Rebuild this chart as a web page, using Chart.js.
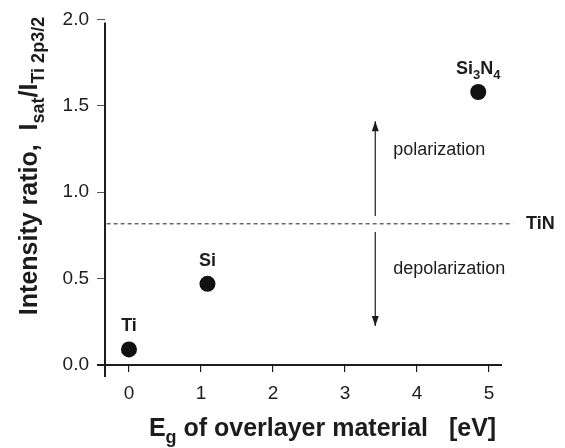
<!DOCTYPE html>
<html>
<head>
<meta charset="utf-8">
<script src="https://cdn.jsdelivr.net/npm/chart.js@4.4.0/dist/chart.umd.min.js"></script>
<style>
  html, body { margin: 0; background: #fff; }
  #wrap { width: 565px; height: 448px; }
</style>
</head>
<body>
<div id="wrap"><canvas id="c"></canvas></div>
<script>
// Satellite intensity ratio vs band gap of the overlayer.
const materials = ['Ti', 'Si', 'Si3N4'];
const bandGap = [0, 1.09, 4.85];          // eV
const intensityRatio = [0.09, 0.47, 1.58];
const tinRatio = 0.817;                   // bare TiN reference
const xTicks = [0, 1, 2, 3, 4, 5];
const yTicks = [0, 0.5, 1.0, 1.5, 2.0];

// polarization / depolarization arrows (x, from, to)
const arrowX = 3.42;
const arrowUp = [0.862, 1.41];
const arrowDown = [0.77, 0.226];

// label pieces: [text, isSubscript]
const pointLabels = [
  [['Ti', 0]],
  [['Si', 0]],
  [['Si', 0], ['3', 1], ['N', 0], ['4', 1]],
];
const yTitle = [['Intensity ratio,  I', 0], ['sat', 1], ['/I', 0], ['Ti 2p3/2', 1]];
const xTitle = [['E', 0], ['g', 1], [' of overlayer material   [eV]', 0]];

const INK = '#1c1c1c';
const FONT = '"Liberation Sans", Arial, Helvetica, sans-serif';

function richWidth(ctx, parts, size, subSize, weight) {
  let w = 0;
  for (const [t, sub] of parts) {
    ctx.font = `${weight} ${sub ? subSize : size}px ${FONT}`;
    w += ctx.measureText(t).width;
  }
  return w;
}

function drawRich(ctx, parts, x, y, size, subSize, weight, align) {
  const total = richWidth(ctx, parts, size, subSize, weight);
  let cx = align === 'center' ? x - total / 2 : x;
  ctx.textBaseline = 'alphabetic';
  ctx.textAlign = 'left';
  for (const [t, sub] of parts) {
    ctx.font = `${weight} ${sub ? subSize : size}px ${FONT}`;
    ctx.fillText(t, cx, sub ? y + size * 0.28 : y);
    cx += ctx.measureText(t).width;
  }
}

const decor = {
  id: 'decor',
  afterDatasetsDraw(chart) {
    const { ctx, chartArea: a, scales: { x, y } } = chart;
    ctx.save();
    ctx.fillStyle = INK;
    ctx.strokeStyle = INK;

    // axis lines, crossing at the origin corner
    ctx.lineWidth = 2;
    ctx.beginPath();
    ctx.moveTo(a.left, a.top + 3);
    ctx.lineTo(a.left, a.bottom + 12);
    ctx.moveTo(a.left - 8, a.bottom);
    ctx.lineTo(a.right, a.bottom);
    ctx.stroke();

    // arrowheads
    for (const [from, to] of [arrowUp, arrowDown]) {
      const px = x.getPixelForValue(arrowX);
      const tip = y.getPixelForValue(to);
      const dir = to > from ? 1 : -1;
      ctx.beginPath();
      ctx.moveTo(px, tip);
      ctx.lineTo(px - 3.5, tip + dir * 10);
      ctx.lineTo(px + 3.5, tip + dir * 10);
      ctx.closePath();
      ctx.fill();
    }

    // point labels
    pointLabels.forEach((parts, i) => {
      const px = x.getPixelForValue(bandGap[i]);
      const py = y.getPixelForValue(intensityRatio[i]);
      drawRich(ctx, parts, px, py - 18, 18, 13, 'bold', 'center');
    });

    // TiN reference label
    ctx.font = `bold 18px ${FONT}`;
    ctx.textAlign = 'left';
    ctx.textBaseline = 'middle';
    ctx.fillText('TiN', a.right + 24, y.getPixelForValue(tinRatio));

    // region notes
    ctx.font = `18px ${FONT}`;
    ctx.fillText('polarization', x.getPixelForValue(3.67), y.getPixelForValue(1.246));
    ctx.fillText('depolarization', x.getPixelForValue(3.67), y.getPixelForValue(0.555));

    // axis titles
    drawRich(ctx, xTitle, (a.left + a.right) / 2 + 19, a.bottom + 71, 25, 18, 'bold', 'center');
    ctx.translate(37, 166);
    ctx.rotate(-Math.PI / 2);
    drawRich(ctx, yTitle, 0, 0, 25, 18, 'bold', 'center');
    ctx.restore();
  }
};

const tickFont = { family: FONT, size: 19 };

new Chart(document.getElementById('c'), {
  data: {
    datasets: [
      {
        type: 'scatter',
        data: bandGap.map((g, i) => ({ x: g, y: intensityRatio[i] })),
        pointRadius: 8,
        pointHoverRadius: 8,
        backgroundColor: '#111',
        borderWidth: 0,
      },
      {
        type: 'line',
        data: [{ x: -0.31, y: tinRatio }, { x: 5.33, y: tinRatio }],
        borderColor: '#222',
        borderWidth: 1,
        borderDash: [4, 3],
        pointRadius: 0,
        clip: false,
      },
      {
        type: 'line',
        data: arrowUp.map(v => ({ x: arrowX, y: v })),
        borderColor: INK,
        borderWidth: 1.2,
        pointRadius: 0,
      },
      {
        type: 'line',
        data: arrowDown.map(v => ({ x: arrowX, y: v })),
        borderColor: INK,
        borderWidth: 1.2,
        pointRadius: 0,
      },
    ],
  },
  options: {
    responsive: true,
    maintainAspectRatio: false,
    animation: false,
    events: [],
    layout: { padding: { top: 11, right: 63, left: 0, bottom: 0 } },
    plugins: { legend: { display: false }, tooltip: { enabled: false } },
    scales: {
      x: {
        type: 'linear',
        min: -0.333,
        max: 5.18,
        afterFit: s => { s.height = 83; },
        afterBuildTicks: s => { s.ticks = xTicks.map(v => ({ value: v })); },
        border: { display: false },
        grid: { drawOnChartArea: false, tickLength: 7, color: INK, lineWidth: 1.2 },
        ticks: { font: tickFont, color: INK, padding: 10, callback: v => String(v) },
      },
      y: {
        type: 'linear',
        min: 0,
        max: 2,
        afterFit: s => { s.width = 105; },
        afterBuildTicks: s => { s.ticks = yTicks.map(v => ({ value: v })); },
        border: { display: false },
        grid: { drawOnChartArea: false, tickLength: 8, color: '#555', lineWidth: 1 },
        ticks: { font: tickFont, color: INK, padding: 8, callback: v => v.toFixed(1) },
      },
    },
  },
  plugins: [decor],
});
</script>
</body>
</html>
